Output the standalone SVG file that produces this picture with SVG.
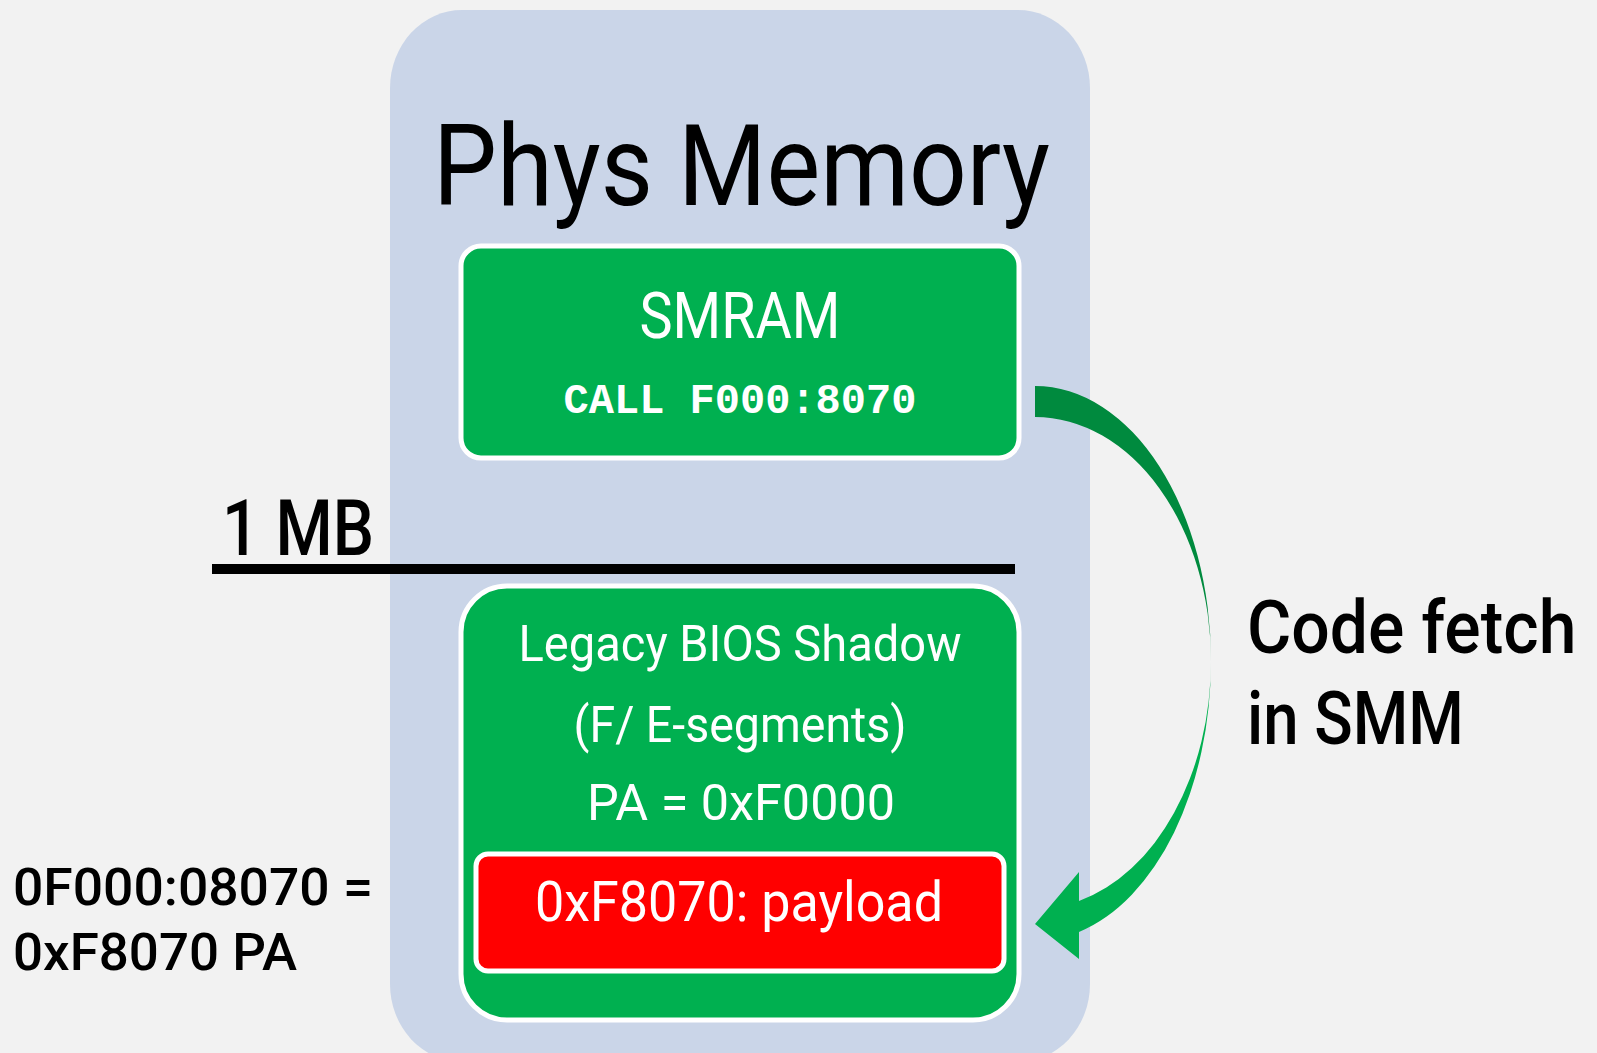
<svg xmlns="http://www.w3.org/2000/svg" width="1597" height="1053" viewBox="0 0 1597 1053">
  <defs>
    <style>
      .t { font-family: Roboto, "Open Sans", "Liberation Sans", sans-serif; }
      .w { fill: #FFFFFF; }
      .k { fill: #000000; }
      .box { fill: #00B050; stroke: #FFFFFF; stroke-width: 5; }
      .red { fill: #FF0000; stroke: #FFFFFF; stroke-width: 5; }
      .mono { font-family: "Liberation Mono", "Courier New", monospace; font-weight: bold; }
    </style>
    <linearGradient id="arrowGrad" gradientUnits="userSpaceOnUse" x1="0" y1="386" x2="0" y2="959">
      <stop offset="0" stop-color="#008A3E"/>
      <stop offset="0.46" stop-color="#008A3E"/>
      <stop offset="0.56" stop-color="#00B050"/>
      <stop offset="1" stop-color="#00B050"/>
    </linearGradient>
  </defs>
  <rect x="0" y="0" width="1597" height="1053" fill="#F2F2F2"/>

  <g id="phys-memory">
    <rect x="390" y="10" width="700" height="1052" rx="72" ry="78" fill="#CAD5E8"/>
    <text class="t k" x="433" y="205" font-size="114" textLength="617" lengthAdjust="spacingAndGlyphs">Phys Memory</text>
  </g>

  <g id="smram">
    <rect class="box" x="461" y="246" width="558" height="212" rx="20"/>
    <text class="t w" x="740" y="338" font-size="64" text-anchor="middle" textLength="201" lengthAdjust="spacingAndGlyphs">SMRAM</text>
    <text class="mono w" x="740" y="413" font-size="42" text-anchor="middle">CALL F000:8070</text>
  </g>

  <g id="boundary-1mb">
    <line x1="212" y1="569" x2="1015" y2="569" stroke="#000000" stroke-width="10"/>
    <text class="t k" x="222" y="555" font-size="78" font-weight="500" textLength="152" lengthAdjust="spacingAndGlyphs">1 MB</text>
  </g>

  <g id="legacy-bios">
    <rect class="box" x="461" y="586" width="558" height="434" rx="46"/>
    <text class="t w" x="740" y="661" font-size="50" text-anchor="middle" textLength="443" lengthAdjust="spacingAndGlyphs">Legacy BIOS Shadow</text>
    <text class="t w" x="740" y="742" font-size="50" text-anchor="middle" textLength="333" lengthAdjust="spacingAndGlyphs">(F/ E-segments)</text>
    <text class="t w" x="741" y="820" font-size="50" text-anchor="middle" textLength="308" lengthAdjust="spacingAndGlyphs">PA = 0xF0000</text>
  </g>

  <g id="payload">
    <rect class="red" x="476" y="854" width="528" height="117" rx="12"/>
    <text class="t w" x="739" y="921" font-size="55" text-anchor="middle" textLength="408" lengthAdjust="spacingAndGlyphs">0xF8070: payload</text>
  </g>

  <g id="address-note">
    <text class="t k" x="13" y="905" font-size="52" font-weight="500" textLength="360" lengthAdjust="spacingAndGlyphs">0F000:08070 =</text>
    <text class="t k" x="13" y="970" font-size="52" font-weight="500" textLength="284" lengthAdjust="spacingAndGlyphs">0xF8070 PA</text>
  </g>

  <g id="code-fetch-label">
    <text class="t k" transform="translate(1247,653) scale(0.9,1)" x="0" y="0" font-size="75" font-weight="500" textLength="366" lengthAdjust="spacingAndGlyphs">Code fetch</text>
    <text class="t k" transform="translate(1247,744) scale(0.9,1)" x="0" y="0" font-size="75" font-weight="500" textLength="241" lengthAdjust="spacingAndGlyphs">in SMM</text>
  </g>

  <g id="connectors">
    <path d="M1035,386 A176,275 0 0 1 1211,661 A176,280 0 0 1 1079,932 L1079,959 L1035,924 L1079,872 L1079,901 A176,248 0 0 0 1211,661 A176,244 0 0 0 1035,417 Z" fill="url(#arrowGrad)"/>
  </g>
</svg>
